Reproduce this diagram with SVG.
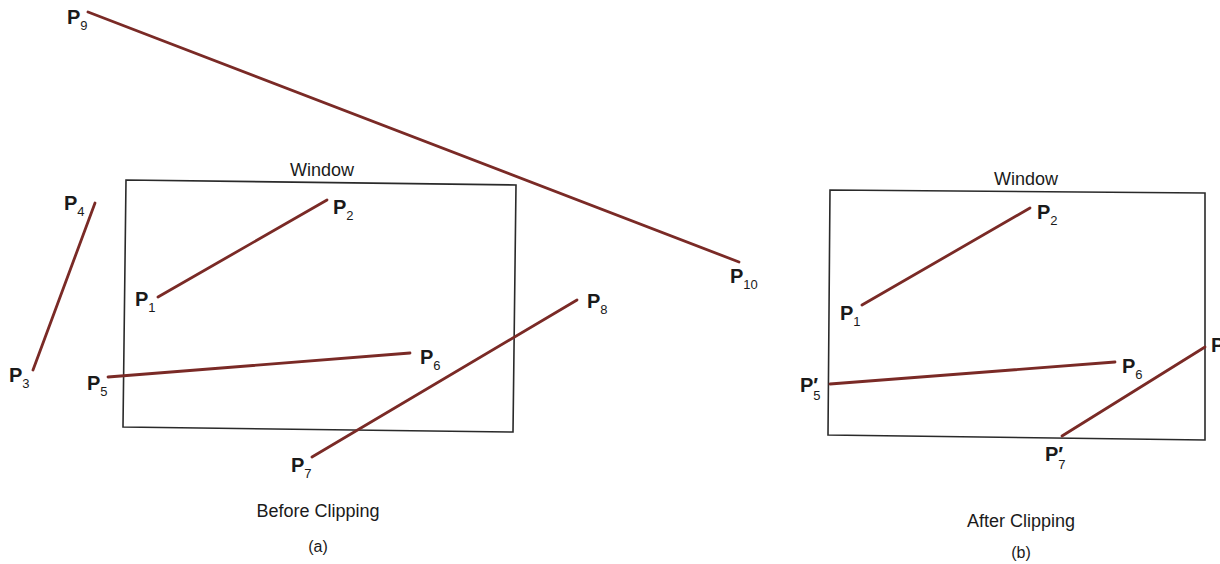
<svg xmlns="http://www.w3.org/2000/svg" width="1220" height="564" viewBox="0 0 1220 564">
<style>
.win{fill:none;stroke:#2a2a2a;stroke-width:1.6}
.seg{stroke:#7a2a26;stroke-width:2.8;stroke-linecap:round;fill:none}
.lbl{font-family:"Liberation Sans",Arial,sans-serif;font-weight:bold;font-size:20px;fill:#1a1a1a}
.sub{font-weight:normal;font-size:13px}
.cap{font-family:"Liberation Sans",Arial,sans-serif;font-size:18px;fill:#1a1a1a;text-anchor:middle}
</style>
<rect width="1220" height="564" fill="#fff"/>
<g id="windowA"><path class="win" d="M126,180 L516,185 L513,432 L123,427 Z"/><text class="cap" x="322" y="176">Window</text></g>
<g id="windowB"><path class="win" d="M830,190 L1205,193 L1205,440 L828,435 Z"/><text class="cap" x="1026" y="185">Window</text></g>
<g id="connectors">
<line class="seg" x1="88" y1="12" x2="739" y2="262"/>
<line class="seg" x1="33" y1="370" x2="95" y2="203"/>
<line class="seg" x1="158" y1="297" x2="327" y2="200"/>
<line class="seg" x1="108" y1="377" x2="410" y2="353"/>
<line class="seg" x1="312" y1="457" x2="577" y2="300"/>
<line class="seg" x1="862" y1="305" x2="1030" y2="208"/>
<line class="seg" x1="830" y1="384" x2="1115" y2="362"/>
<line class="seg" x1="1062" y1="436" x2="1205" y2="347"/>
</g>
<g id="labelsA">
<text class="lbl" x="67" y="24">P<tspan class="sub" dy="6">9</tspan></text>
<text class="lbl" x="64" y="210">P<tspan class="sub" dy="6">4</tspan></text>
<text class="lbl" x="9" y="382">P<tspan class="sub" dy="6">3</tspan></text>
<text class="lbl" x="135" y="306">P<tspan class="sub" dy="6">1</tspan></text>
<text class="lbl" x="333" y="214">P<tspan class="sub" dy="6">2</tspan></text>
<text class="lbl" x="87" y="390">P<tspan class="sub" dy="6">5</tspan></text>
<text class="lbl" x="420" y="364">P<tspan class="sub" dy="6">6</tspan></text>
<text class="lbl" x="291" y="472">P<tspan class="sub" dy="6">7</tspan></text>
<text class="lbl" x="587" y="308">P<tspan class="sub" dy="6">8</tspan></text>
<text class="lbl" x="730" y="283">P<tspan class="sub" dy="6">10</tspan></text>
<text class="cap" x="318" y="517">Before Clipping</text>
<text class="cap" x="318" y="552" style="font-size:16px">(a)</text>
</g>
<g id="labelsB">
<text class="lbl" x="1037" y="219">P<tspan class="sub" dy="6">2</tspan></text>
<text class="lbl" x="840" y="320">P<tspan class="sub" dy="6">1</tspan></text>
<text class="lbl" x="1122" y="373">P<tspan class="sub" dy="6">6</tspan></text>
<text class="lbl" x="800" y="392">P′<tspan class="sub" dx="-5" dy="8">5</tspan></text>
<text class="lbl" x="1045" y="461">P′<tspan class="sub" dx="-5" dy="8">7</tspan></text>
<text class="lbl" x="1211" y="352">P</text>
<text class="cap" x="1021" y="527">After Clipping</text>
<text class="cap" x="1021" y="558" style="font-size:16px">(b)</text>
</g>
</svg>
